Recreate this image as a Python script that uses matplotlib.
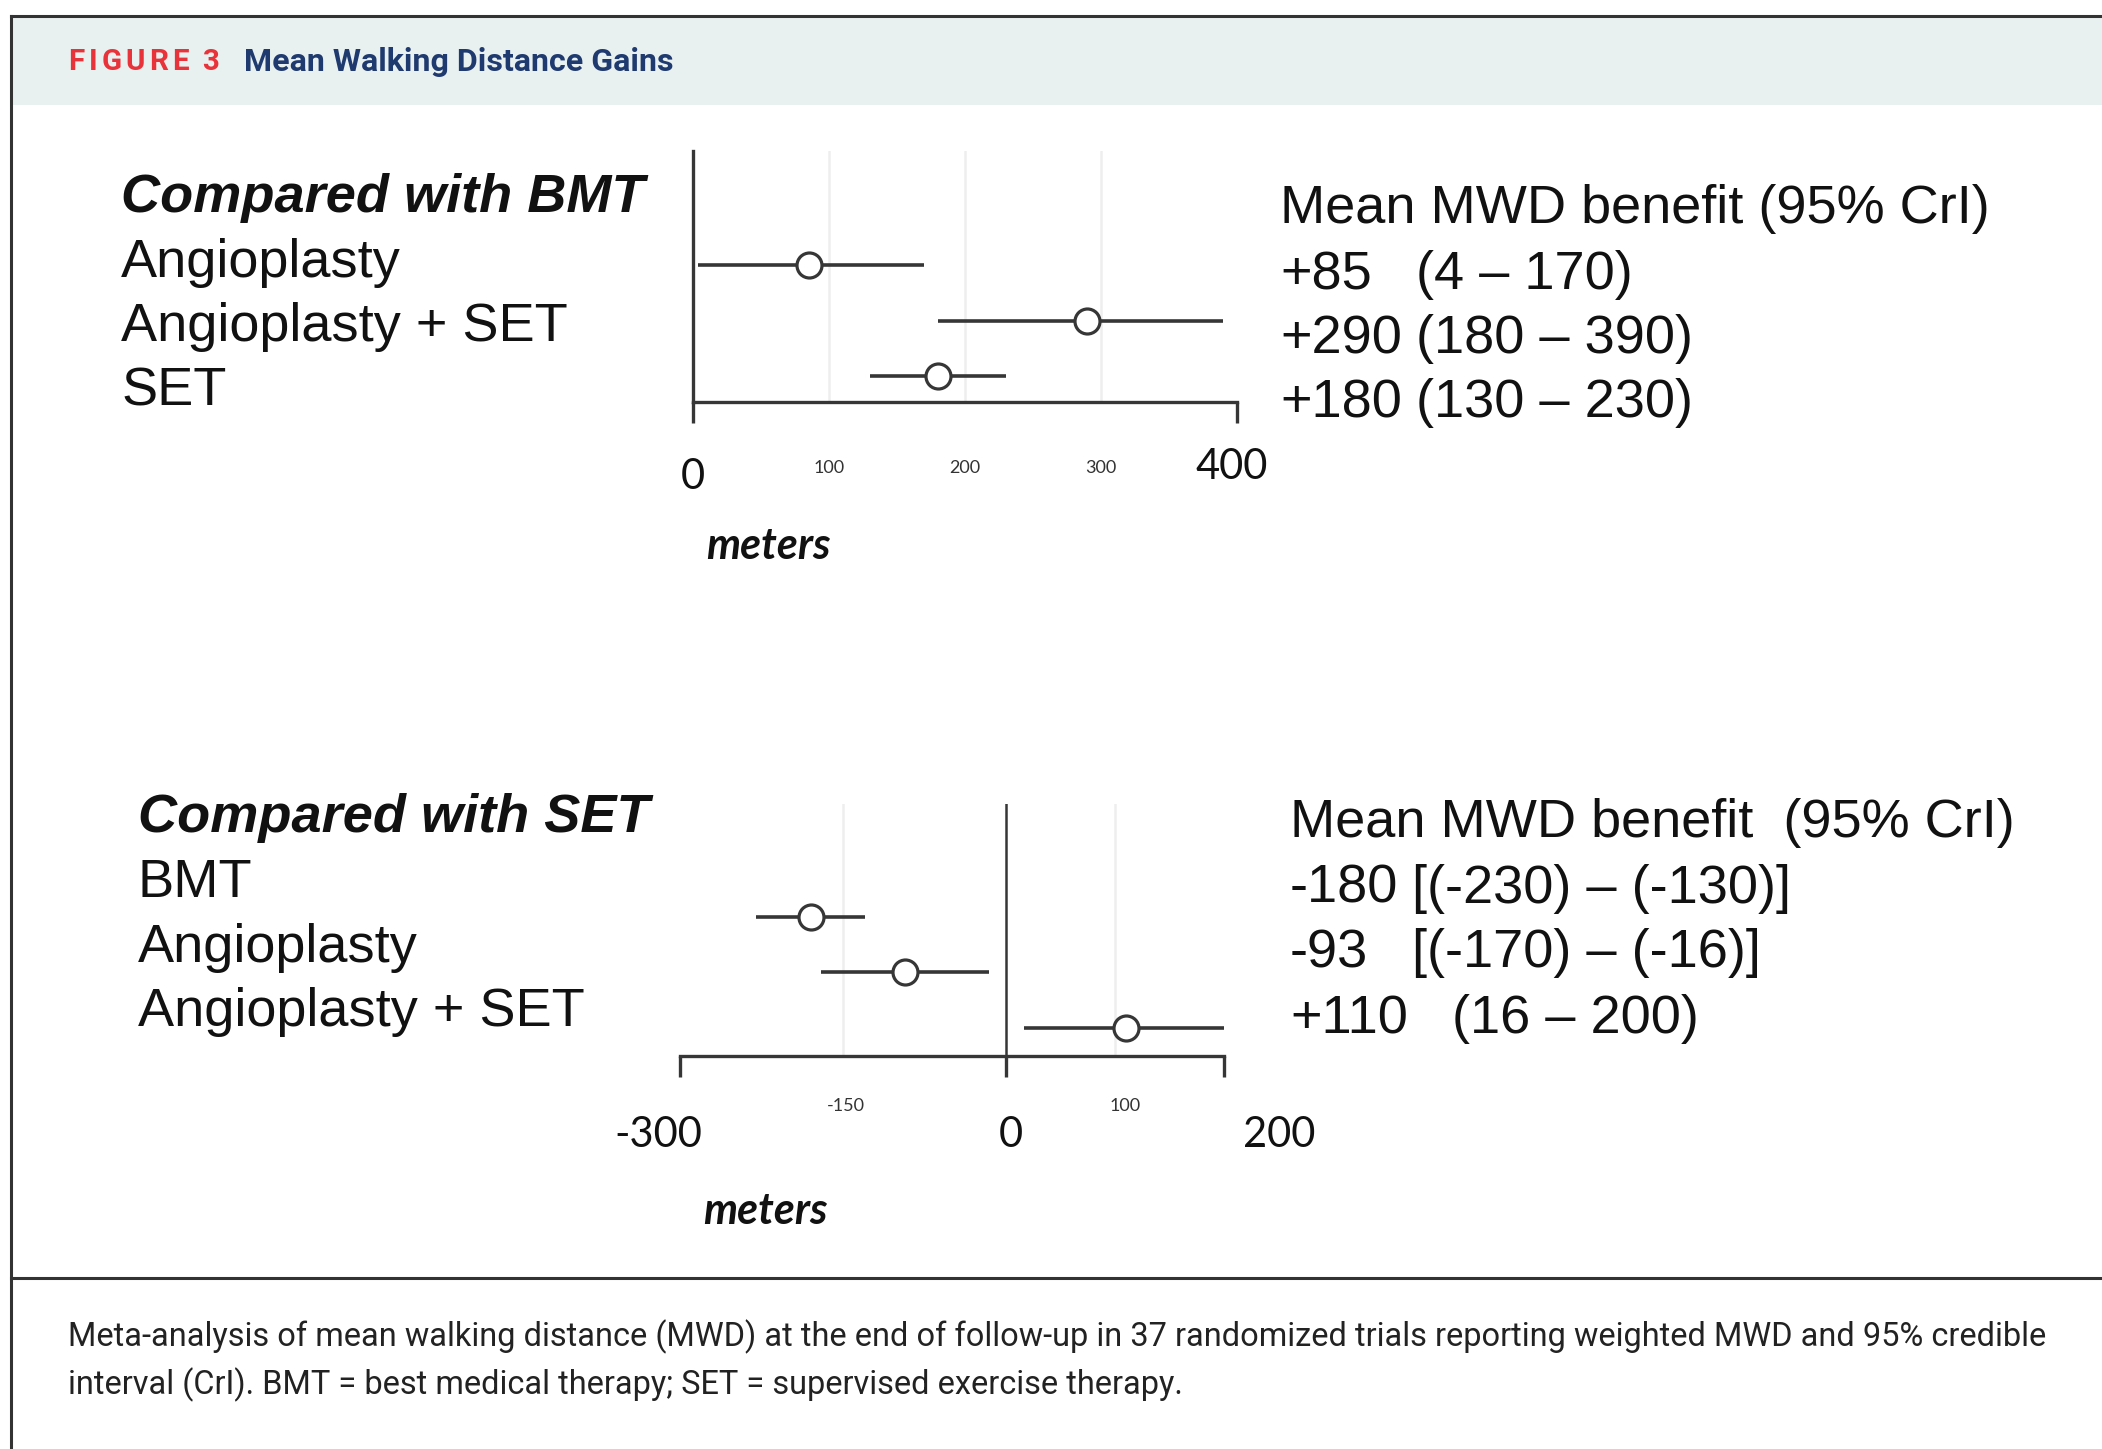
import matplotlib
matplotlib.use('Agg')
import matplotlib.pyplot as plt
import matplotlib.transforms as mtransforms
from matplotlib import font_manager
from matplotlib.patches import Rectangle
from matplotlib.lines import Line2D

# data
top_labels = ['Angioplasty', 'Angioplasty + SET', 'SET']
top_mean = [85, 290, 180]
top_lo = [4, 180, 130]
top_hi = [170, 390, 230]
top_val = ['+85', '+290', '+180']
top_ci = ['(4 \u2013 170)', '(180 \u2013 390)', '(130 \u2013 230)']
top_grid = [100, 200, 300]
top_ticks = [0, 400]
top_ticklabels = [(0, '0', 'big'), (100, '100', 'small'), (200, '200', 'small'),
                  (300, '300', 'small'), (396, '400', 'big')]

bot_labels = ['BMT', 'Angioplasty', 'Angioplasty + SET']
bot_mean = [-180, -93, 110]
bot_lo = [-230, -170, 16]
bot_hi = [-130, -16, 200]
bot_val = ['-180', '-93', '+110']
bot_ci = ['[(-230) \u2013 (-130)]', '[(-170) \u2013 (-16)]', '(16 \u2013 200)']
bot_grid = [-150, 100]
bot_ticks = [-300, 0, 200]
bot_ticklabels = [(-320, '-300', 'big'), (-148, '-150', 'small'), (4, '0', 'big'),
                  (109, '100', 'small'), (251, '200', 'big')]

W, H = 2102, 1449
fig = plt.figure(figsize=(W / 100, H / 100), dpi=100)
fig.patch.set_facecolor('white')


def fx(px):
    return px / W


def fy(py):
    return 1 - py / H


names = {f.name for f in font_manager.fontManager.ttflist}
SANS = 'Liberation Sans'
CAL = 'Lato' if 'Lato' in names else 'DejaVu Sans'
NARROW = 'Liberation Sans Narrow' if 'Liberation Sans Narrow' in names else 'Roboto'
INK = '#111111'
LINE = '#363636'
DY = 4  # text nudged down a bit

# frame, header band
fig.patches.append(Rectangle((fx(11), fy(105)), 1, fy(16) - fy(105),
                             transform=fig.transFigure, facecolor='#e9f1f0',
                             edgecolor='none', zorder=0))
for xs, ys in [([11, W], [16, 16]), ([11, 11], [16, H]), ([11, W], [1278, 1278])]:
    fig.lines.append(Line2D([fx(x) for x in xs], [fy(y) for y in ys],
                            transform=fig.transFigure, color='#333333', lw=2.2))

renderer = fig.canvas.get_renderer()


def fit(t, target):
    bb = t.get_window_extent(renderer)
    t.set_fontsize(t.get_fontsize() * target / bb.width)
    return t.get_fontsize()


t2 = fig.text(fx(244), fy(62), 'Mean Walking Distance Gains', color='#1f3a6e',
              fontsize=18, fontweight='bold', family='Roboto', va='center')
hs = fit(t2, 430)

# letter-spaced "FIGURE 3", one glyph at a time
chars = list('FIGURE 3')
widths = []
for ch in chars:
    tt = fig.text(0, 0, ch if ch != ' ' else 'I', fontsize=hs * 0.92,
                  fontweight='bold', family='Roboto')
    w = tt.get_window_extent(renderer).width
    tt.remove()
    widths.append(w * 0.6 if ch == ' ' else w)
gap = (151 - sum(widths)) / (len(chars) - 1)
x = 68
for ch, w in zip(chars, widths):
    if ch != ' ':
        fig.text(fx(x), fy(62), ch, color='#e8333a', fontsize=hs * 0.92,
                 fontweight='bold', family='Roboto', va='center')
    x += w + gap

c1 = fig.text(fx(68), fy(1337), 'Meta-analysis of mean walking distance (MWD) at the end of '
              'follow-up in 37 randomized trials reporting weighted MWD and 95% credible',
              family=NARROW, fontsize=20, color='#222222', va='center')
cs = fit(c1, 1972)
fig.text(fx(68), fy(1385), 'interval (CrI). BMT = best medical therapy; '
         'SET = supervised exercise therapy.', family=NARROW, fontsize=cs,
         color='#222222', va='center')


def panel(rect, xlim, ylim, mean, lo, hi, grid, ticks, ticklabels, tick_y,
          small_y, left_spine, title, labels, lab_x, lab_y, val, ci,
          val_x, ci_x, head_y, row_y, meters_xy, head_text):
    ax = fig.add_axes(rect)
    ax.set_facecolor('none')
    ypos = [3, 2, 1]
    for g in grid:
        ax.axvline(g, color='#eeeeee', lw=1.8, zorder=0)
    xerr = [[m - l for m, l in zip(mean, lo)], [h - m for m, h in zip(mean, hi)]]
    ax.errorbar(mean, ypos, xerr=xerr, fmt='o', ms=18, mfc='white', mec=LINE,
                mew=2.3, ecolor=LINE, elinewidth=2.6, capsize=0, zorder=3)
    ax.set_xlim(*xlim)
    ax.set_ylim(*ylim)
    for s in ['top', 'right']:
        ax.spines[s].set_visible(False)
    ax.spines['left'].set_visible(left_spine)
    ax.spines['bottom'].set_linewidth(2.4)
    ax.spines['bottom'].set_color(LINE)
    ax.spines['left'].set_linewidth(2.4)
    ax.spines['left'].set_color(LINE)
    if not left_spine:
        ax.axvline(0, color=LINE, lw=1.8, zorder=2)
    ax.set_yticks([])
    ax.set_xticks(ticks)
    ax.set_xticklabels([''] * len(ticks))
    ax.tick_params(axis='x', length=15, width=2.4, color=LINE, direction='out')
    tr = mtransforms.blended_transform_factory(ax.transData, fig.transFigure)
    for x, s, kind in ticklabels:
        if kind == 'big':
            ax.text(x, fy(tick_y[x] if isinstance(tick_y, dict) else tick_y), s,
                    transform=tr, ha='center', va='center', family=CAL,
                    fontsize=30, color=INK)
        else:
            ax.text(x, fy(small_y), s, transform=tr, ha='center', va='center',
                    family=CAL, fontsize=13, color='#333333')
    fig.text(fx(meters_xy[0]), fy(meters_xy[1]), 'meters', ha='center', va='center',
             family=CAL, fontsize=31, fontweight='bold', style='italic', color=INK)
    fig.text(fx(lab_x), fy(lab_y[0] + DY), title, family=SANS, fontsize=39,
             fontweight='bold', style='italic', va='center', color=INK)
    for lab, y in zip(labels, lab_y[1:]):
        fig.text(fx(lab_x), fy(y + DY), lab, family=SANS, fontsize=39, va='center',
                 color=INK)
    fig.text(fx(val_x), fy(head_y + DY), head_text, family=SANS, fontsize=39,
             va='center', color=INK)
    for v, c, cx, y in zip(val, ci, ci_x, row_y):
        fig.text(fx(val_x), fy(y + DY), v, family=SANS, fontsize=39, va='center',
                 color=INK)
        fig.text(fx(cx), fy(y + DY), c, family=SANS, fontsize=39, va='center',
                 color=INK)
    return ax


panel([fx(693), fy(402), fx(1237) - fx(693), fy(151) - fy(402)], (0, 400),
      (0.54, 5.05), top_mean, top_lo, top_hi, top_grid, top_ticks, top_ticklabels,
      {0: 477, 396: 467}, 468, True, 'Compared with BMT', top_labels, 121,
      [194, 259, 323, 387], top_val, top_ci, 1280, [1416, 1416, 1416], 205,
      [271, 335, 399], (768, 546), 'Mean MWD benefit (95% CrI)')

panel([fx(680), fy(1056), fx(1224) - fx(680), fy(804) - fy(1056)], (-300, 200),
      (0.494, 5.024), bot_mean, bot_lo, bot_hi, bot_grid, bot_ticks, bot_ticklabels,
      1135, 1106, False, 'Compared with SET', bot_labels, 138,
      [814, 879, 944, 1008], bot_val, bot_ci, 1290, [1412, 1412, 1452], 819,
      [885, 949, 1015], (765, 1211), 'Mean MWD benefit  (95% CrI)')

fig.savefig('out.png', dpi=100)
